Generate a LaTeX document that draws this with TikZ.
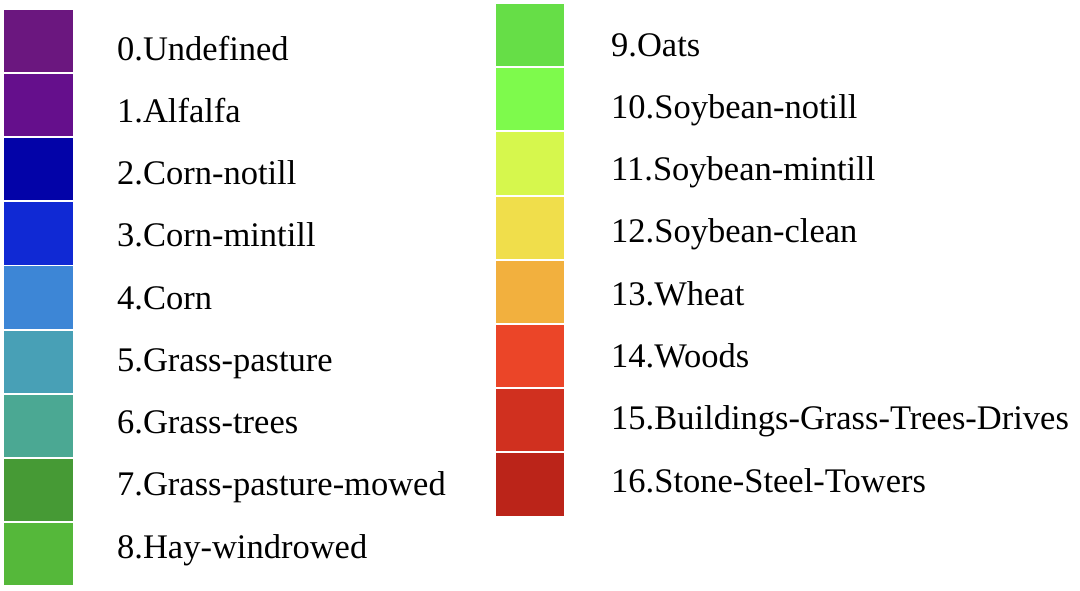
\documentclass[tikz,border=0pt]{standalone}
\usepackage{fontspec}
\setmainfont{Liberation Serif}
\definecolor{c0}{HTML}{6B177F}
\definecolor{c1}{HTML}{650F8C}
\definecolor{c2}{HTML}{0303A8}
\definecolor{c3}{HTML}{1029D4}
\definecolor{c4}{HTML}{3D86D6}
\definecolor{c5}{HTML}{48A0B6}
\definecolor{c6}{HTML}{4BA893}
\definecolor{c7}{HTML}{469A35}
\definecolor{c8}{HTML}{55B83A}
\definecolor{c9}{HTML}{66DE47}
\definecolor{c10}{HTML}{7EFA4C}
\definecolor{c11}{HTML}{D6F74D}
\definecolor{c12}{HTML}{F0DE4B}
\definecolor{c13}{HTML}{F2B03E}
\definecolor{c14}{HTML}{EB4528}
\definecolor{c15}{HTML}{D0301F}
\definecolor{c16}{HTML}{BB2419}
\tikzset{
  swatch/.style={fill=#1, draw=none},
  lbl/.style={anchor=base west, inner sep=0pt, font=\fontsize{34.5}{34.5}\selectfont}
}
\begin{document}
\begin{tikzpicture}[x=1pt,y=-1pt]
\useasboundingbox (0,0) rectangle (1080,590);
\foreach \i/\t in {0/0.Undefined,1/1.Alfalfa,2/2.Corn-notill,3/3.Corn-mintill,4/4.Corn,5/5.Grass-pasture,6/6.Grass-trees,7/7.Grass-pasture-mowed,8/8.Hay-windrowed}{
  \fill[swatch=c\i] (4,{10+64.1*\i}) rectangle (73,{72.2+64.1*\i});
  \node[lbl] (t\i) at (117,{60+62.25*\i}) {\t};
}
\foreach \i/\t in {9/9.Oats,10/10.Soybean-notill,11/11.Soybean-mintill,12/12.Soybean-clean,13/13.Wheat,14/14.Woods,15/15.Buildings-Grass-Trees-Drives,16/16.Stone-Steel-Towers}{
  \fill[swatch=c\i] (496,{4+64.2*(\i-9)}) rectangle (563.5,{66.2+64.2*(\i-9)});
  \node[lbl] (t\i) at (611,{56+62.3*(\i-9)}) {\t};
}
\end{tikzpicture}
\end{document}
